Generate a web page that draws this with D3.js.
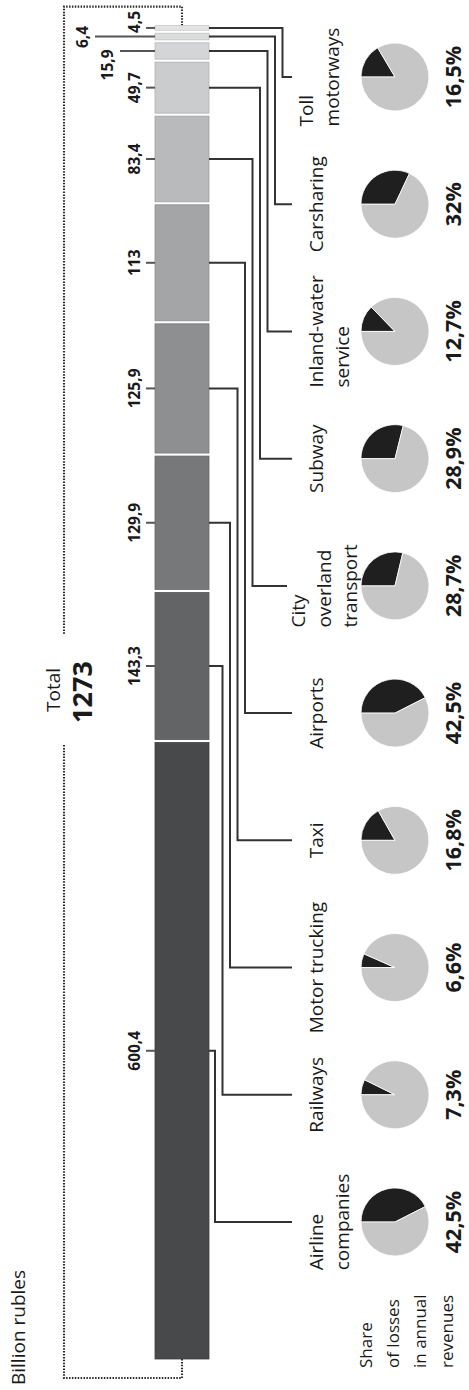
<!DOCTYPE html>
<html><head><meta charset="utf-8">
<script src="https://cdn.jsdelivr.net/npm/d3@7"></script>
<style>
body{margin:0;background:#fff}
svg text{font-family:"Open Sans",sans-serif;fill:#1a1a1a}
</style>
</head><body>
<svg id="chart" width="469" height="1390"></svg>
<script>
// ---- data ----
const categories = [
  ["Airline","companies"],["Railways"],["Motor trucking"],["Taxi"],["Airports"],
  ["City","overland","transport"],["Subway"],["Inland-water","service"],["Carsharing"],["Toll","motorways"]
];
const values = [600.4,143.3,129.9,125.9,113,83.4,49.7,15.9,6.4,4.5];
const lossShare = [42.5,7.3,6.6,16.8,42.5,28.7,28.9,12.7,32,16.5];
const total = 1273;
const unitLabel = "Billion rubles";
const totalTitle = "Total";
const legendLines = ["Share","of losses","in annual","revenues"];

// ---- style ----
const palette = ["#48494b","#636466","#77787a","#8e8f91","#a4a5a7","#b9babc","#cbcccd","#d4d5d6","#dcdddd","#e4e4e4"];
const fmt = v => String(v).replace(".", ",");

const svg = d3.select("#chart");
const barX0 = 155, barX1 = 209, barBottom = 1359, gap = 3;
const len = d3.scaleLinear().domain([0,total]).range([0,1307]);

// segments
let cum = 0;
const segs = values.map((v,i)=>{
  const y0 = barBottom - len(cum) - gap*i;
  const y1 = y0 - len(v);
  cum += v;
  return {i, v, y0, y1, yc:(y0+y1)/2};
});

const labelY = d3.scalePoint().domain(d3.range(values.length)).range([1222,77]);

// dotted bracket
const barTop = segs[segs.length-1].y1;
const bTop = barTop - 19, bBot = barBottom + 19, bL = 64, bR = 182;
const dot = {stroke:"#2a2a2a","stroke-width":2.1,"stroke-dasharray":"1.5 1.4",fill:"none"};
function dline(d){ const p = svg.append("path").attr("d",d); Object.entries(dot).forEach(([k,v])=>p.attr(k,v)); }
dline(`M${bR},${barTop} V${bTop} H${bL} V635`);
dline(`M${bL},745 V${bBot} H${bR} V${barBottom}`);

// Total
function rtext(x,y,txt,size,weight,anchor){
  return svg.append("text").attr("transform",`translate(${x},${y}) rotate(-90)`)
    .attr("text-anchor",anchor||"middle").style("font-size",size+"px")
    .style("font-weight",weight||400).text(txt);
}
rtext(60,690,totalTitle,19,400);
rtext(92,692,String(total),27,700);
rtext(25,1385,unitLabel,19,400,"start");

// bar segments
svg.append("g").selectAll("rect").data(segs).join("rect")
  .attr("x",barX0).attr("width",barX1-barX0)
  .attr("y",d=>d.y1).attr("height",d=>d.y0-d.y1)
  .attr("fill",(d,i)=>palette[i])
  .attr("stroke",(d,i)=>d3.color(palette[i]).darker(0.4))
  .attr("stroke-width",0.8);

// value labels with ticks (layout offsets to avoid collisions)
const valLayout = {7:{dy:14,bx:113,tx:120},8:{dy:0.5,bx:88,tx:95},9:{dy:-6,bx:140,tx:146}};
segs.forEach(s=>{
  const L = valLayout[s.i] || {dy:0,bx:140,tx:146};
  svg.append("line").attr("x1",L.tx).attr("x2",barX0).attr("y1",s.yc).attr("y2",s.yc)
    .attr("stroke","#555").attr("stroke-width",2);
  rtext(L.bx, s.yc + L.dy, fmt(s.v), 15.5, 700);
});

// leader lines
segs.forEach(s=>{
  const xi = 215 + 7.5*s.i;
  const xe = s.i===5 ? 287 : 292;
  svg.append("path").attr("d",`M${barX1},${s.yc} H${xi} V${labelY(s.i)} H${xe}`)
    .attr("fill","none").attr("stroke","#333").attr("stroke-width",2);
});

// category labels
categories.forEach((lines,i)=>{
  const ly = labelY(i);
  const first = lines.length===3 ? 305 : (i===9 ? 313 : 323);
  const g = svg.append("g");
  const ts = lines.map((t,k)=>g.append("text").style("font-size","19px").attr("text-anchor","start").text(t));
  const maxLen = d3.max(ts, t=>t.node().getComputedTextLength());
  ts.forEach((t,k)=>t.attr("transform",`translate(${first+26*k},${ly+maxLen/2}) rotate(-90)`));
});

// pies
const arc = d3.arc().innerRadius(0).outerRadius(34);
const pie = d3.pie().sort(null).startAngle(-Math.PI/2).endAngle(1.5*Math.PI);
lossShare.forEach((p,i)=>{
  const g = svg.append("g").attr("transform",`translate(395,${labelY(i)})`);
  g.selectAll("path").data(pie([p,100-p])).join("path")
    .attr("d",arc).attr("fill",(d,k)=>k===0?"#1f1f1f":"#c6c6c6")
    .attr("stroke","#fff").attr("stroke-width",0.8);
  rtext(461, labelY(i), fmt(p)+"%", 21.5, 700);
});

// legend
legendLines.forEach((t,k)=>rtext(372+27*k,1368,t,17,400,"start"));
</script>
</body></html>
